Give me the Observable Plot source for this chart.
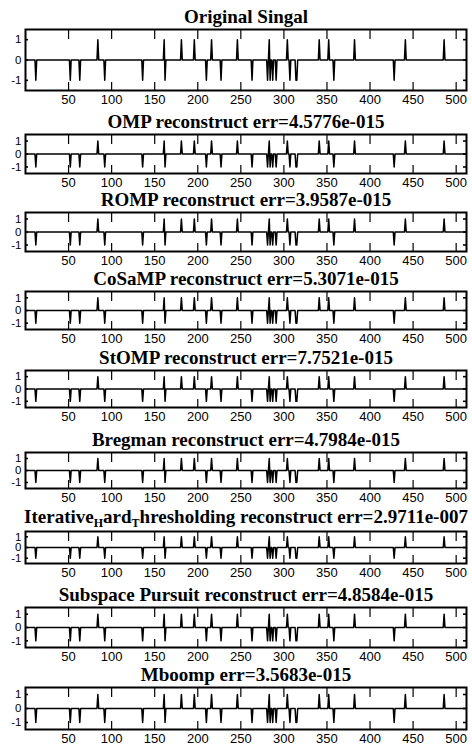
<!DOCTYPE html>
<html>
<head>
<meta charset="utf-8">
<script src="https://cdn.jsdelivr.net/npm/d3@7"></script>
<script src="https://cdn.jsdelivr.net/npm/@observablehq/plot@0.6"></script>
<style>
  html, body { margin: 0; padding: 0; background: #fff; }
  #fig { position: relative; width: 472px; height: 748px; overflow: hidden; background: #fff; }
  .title {
    position: absolute; left: 20px; width: 452px; text-align: center;
    font-family: "Liberation Serif", "Times New Roman", serif; font-weight: bold;
    font-size: 19px; line-height: 16px; color: #000; white-space: nowrap;
  }
  .title sub { font-size: 12px; vertical-align: -4px; line-height: 0; }
  .panel { position: absolute; left: 0; }
</style>
</head>
<body>
<div id="fig"></div>
<script>
// ---- data ----
const signalLength = 512;
// sparse signal: sample index and amplitude of each non-zero entry
const spikeIndex = [12, 52, 63, 84, 92, 136, 161, 162, 181, 196, 210, 216, 227, 246, 263,
                    281, 283, 284, 287, 291, 304, 307, 314, 315, 341, 352, 358, 382, 428, 441, 486];
const spikeValue = [-1, -1, -1, 1, -1, -1, 1, -1, 1, 1, -1, 1, -1, 1, -1,
                    -1, 1, -1, -1, -1, 1, -1, -1, -1, 1, 1, -1, 1, -1, 1, 1];
// titles (TeX-style "_X" = subscript X, as in the original figure)
const panelTitles = [
  "Original Singal",
  "OMP reconstruct err=4.5776e-015",
  "ROMP reconstruct err=3.9587e-015",
  "CoSaMP reconstruct err=5.3071e-015",
  "StOMP reconstruct err=7.7521e-015",
  "Bregman reconstruct err=4.7984e-015",
  "Iterative_Hard_Thresholding reconstruct err=2.9711e-007",
  "Subspace Pursuit reconstruct err=4.8584e-015",
  "Mboomp err=3.5683e-015"
];
const xTicks = [50, 100, 150, 200, 250, 300, 350, 400, 450, 500];
const yTicks = [-1, 0, 1];
const yTickLabels = ["-1", "0", "1"];
const xDomain = [0, 512];
const yDomain = [-1.5, 1.5];

// ---- layout (pixels) ----
const layout = [
  {top: 29,  h: 61, t: 17},
  {top: 134, h: 39, t: 122},
  {top: 212, h: 39, t: 200},
  {top: 291, h: 38, t: 279},
  {top: 370, h: 37, t: 358},
  {top: 452, h: 36, t: 440},
  {top: 531, h: 32, t: 517},
  {top: 607, h: 40, t: 595},
  {top: 687, h: 42, t: 675}
];

// build the full signal from the sparse entries (all other samples are zero)
const signal = d3.range(1, signalLength + 1).map(i => ({i, v: 0}));
spikeIndex.forEach((k, j) => { signal[k - 1].v = spikeValue[j]; });
// all reconstructions are visually identical to the original
const series = panelTitles.map(() => signal);

const W = 472, ML = 25, MR = 6, MT = 2, MB = 20;
const fig = document.getElementById("fig");

function texTitle(s) {
  return s.replace(/&/g, "&amp;").replace(/</g, "&lt;").replace(/_(.)/g, "<sub>$1</sub>");
}

panelTitles.forEach((title, k) => {
  const L = layout[k];
  const innerW = W - ML - MR;
  const chart = Plot.plot({
    width: W,
    height: L.h + MT + MB,
    marginLeft: ML, marginRight: MR, marginTop: MT, marginBottom: MB,
    x: {domain: xDomain},
    y: {domain: yDomain},
    style: {fontFamily: "'Liberation Sans', Arial, sans-serif", fontSize: "13px", color: "#000", background: "transparent", overflow: "visible"},
    marks: [
      Plot.line(series[k], {x: "i", y: "v", stroke: "#000", strokeWidth: 1.5}),
      Plot.tickX(xTicks, {stroke: "#000", strokeWidth: 1.2, insetBottom: L.h - 10}),
      Plot.tickX(xTicks, {stroke: "#000", strokeWidth: 1.2, insetTop: L.h - 8}),
      Plot.tickY(yTicks, {stroke: "#000", strokeWidth: 1.6, insetRight: innerW - 3}),
      Plot.tickY(yTicks, {stroke: "#000", strokeWidth: 1.6, insetLeft: innerW - 3}),
      Plot.axisX({ticks: xTicks, tickSize: 0, tickPadding: 4, label: null, tickFormat: d => String(d)}),
      Plot.axisY({ticks: yTicks, tickSize: 0, tickPadding: 4, label: null, fontSize: 11.5,
                  tickFormat: d => yTickLabels[yTicks.indexOf(d)]}),
      Plot.frame({stroke: "#000", strokeWidth: 2})
    ]
  });
  chart.classList.add("panel");
  chart.style.top = (L.top - MT) + "px";
  fig.appendChild(chart);

  const t = document.createElement("div");
  t.className = "title";
  t.innerHTML = texTitle(title);
  t.style.top = (L.t - 8) + "px";
  fig.appendChild(t);
});
</script>
</body>
</html>
